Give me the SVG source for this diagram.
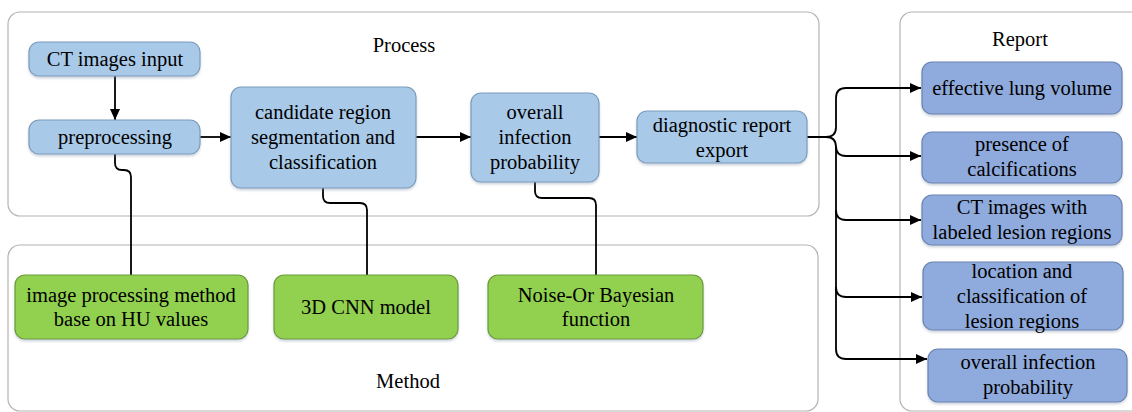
<svg xmlns="http://www.w3.org/2000/svg" width="1132" height="412" viewBox="0 0 1132 412">
<style>
text{font-family:'Liberation Serif','DejaVu Serif',serif;font-size:20.5px;fill:#000;text-anchor:middle}
.cont{fill:#fff;stroke:#b4b4b4;stroke-width:1.2}
.pb{fill:#a9c9e9;stroke:#7d9cbd;stroke-width:1.2}
.rb{fill:#8faadc;stroke:#6a84b3;stroke-width:1.2}
.gb{fill:#92d050;stroke:#6b9a3a;stroke-width:1.2}
.c{fill:none;stroke:#000;stroke-width:1.8}
</style>
<defs>
<marker id="ah" markerUnits="userSpaceOnUse" markerWidth="12" markerHeight="10" refX="11" refY="5" orient="auto">
<path d="M0,0 L11,5 L0,10 Z" fill="#000"/>
</marker>
<filter id="sh" x="-5%" y="-5%" width="110%" height="125%">
<feDropShadow dx="0" dy="2" stdDeviation="1.2" flood-color="#7a8aa0" flood-opacity="0.35"/>
</filter>
</defs>
<g id="containers">
<rect class="cont" x="8" y="12" width="811" height="204" rx="12"/>
<rect class="cont" x="8" y="245" width="810" height="166" rx="12"/>
<rect class="cont" x="900" y="12" width="245" height="399" rx="12"/>
<text x="404" y="52">Process</text>
<text x="408" y="388">Method</text>
<text x="1020" y="46">Report</text>
</g>
<g id="connectors">
<path class="c" d="M115,76 V120" marker-end="url(#ah)"/>
<path class="c" d="M200,137 H231" marker-end="url(#ah)"/>
<path class="c" d="M416,137 H471" marker-end="url(#ah)"/>
<path class="c" d="M599,137 H637" marker-end="url(#ah)"/>
<path class="c" d="M115,154 V163 Q115,170 122,170 H124 Q131,170 131,177 V275"/>
<path class="c" d="M323,188 V196 Q323,203 330,203 H360 Q367,203 367,210 V275"/>
<path class="c" d="M535,182 V191 Q535,198 542,198 H589 Q596,198 596,205 V275"/>
<path class="c" d="M802,137 H826 Q836,137 836,127 V98 Q836,88 846,88 H921" marker-end="url(#ah)"/>
<path class="c" d="M826,137 Q836,137 836,147 V349 Q836,359 846,359 H927" marker-end="url(#ah)"/>
<path class="c" d="M836,146 Q836,156 846,156 H921" marker-end="url(#ah)"/>
<path class="c" d="M836,210 Q836,220 846,220 H921" marker-end="url(#ah)"/>
<path class="c" d="M836,287 Q836,297 846,297 H922" marker-end="url(#ah)"/>
</g>
<g id="ct-input"><rect class="pb" filter="url(#sh)" x="29" y="42" width="171" height="34" rx="10"/><text x="115" y="66">CT images input</text></g>
<g id="preprocessing"><rect class="pb" filter="url(#sh)" x="29" y="120" width="171" height="34" rx="10"/><text x="115" y="144">preprocessing</text></g>
<g id="candidate"><rect class="pb" filter="url(#sh)" x="231" y="87" width="185" height="101" rx="10"/>
<text x="323" y="119">candidate region</text><text x="323" y="144">segmentation and</text><text x="323" y="169">classification</text></g>
<g id="overall"><rect class="pb" filter="url(#sh)" x="471" y="93" width="128" height="89" rx="10"/>
<text x="535" y="119">overall</text><text x="535" y="144">infection</text><text x="535" y="169">probability</text></g>
<g id="diagnostic"><rect class="pb" filter="url(#sh)" x="637" y="111" width="170" height="52" rx="10"/>
<text x="722" y="132">diagnostic report</text><text x="722" y="157">export</text></g>
<g id="r-lung"><rect class="rb" filter="url(#sh)" x="922" y="62" width="200" height="52" rx="10"/><text x="1022" y="95">effective lung volume</text></g>
<g id="r-calc"><rect class="rb" filter="url(#sh)" x="922" y="132" width="200" height="51" rx="10"/>
<text x="1022" y="151">presence of</text><text x="1022" y="176">calcifications</text></g>
<g id="r-ct"><rect class="rb" filter="url(#sh)" x="922" y="195" width="200" height="50" rx="10"/>
<text x="1022" y="214">CT images with</text><text x="1022" y="239">labeled lesion regions</text></g>
<g id="r-loc"><rect class="rb" filter="url(#sh)" x="923" y="262" width="200" height="68" rx="10"/>
<text x="1022" y="278">location and</text><text x="1022" y="303">classification of</text><text x="1022" y="328">lesion regions</text></g>
<g id="r-prob"><rect class="rb" filter="url(#sh)" x="928" y="349" width="199" height="53" rx="10"/>
<text x="1028" y="369">overall infection</text><text x="1028" y="394">probability</text></g>
<g id="m-hu"><rect class="gb" filter="url(#sh)" x="15" y="275" width="233" height="64" rx="10"/>
<text x="131" y="302">image processing method</text><text x="131" y="326">base on HU values</text></g>
<g id="m-cnn"><rect class="gb" filter="url(#sh)" x="274" y="275" width="184" height="64" rx="10"/><text x="366" y="314">3D CNN model</text></g>
<g id="m-bayes"><rect class="gb" filter="url(#sh)" x="488" y="275" width="215" height="64" rx="10"/>
<text x="596" y="302">Noise-Or Bayesian</text><text x="596" y="326">function</text></g>
</svg>
